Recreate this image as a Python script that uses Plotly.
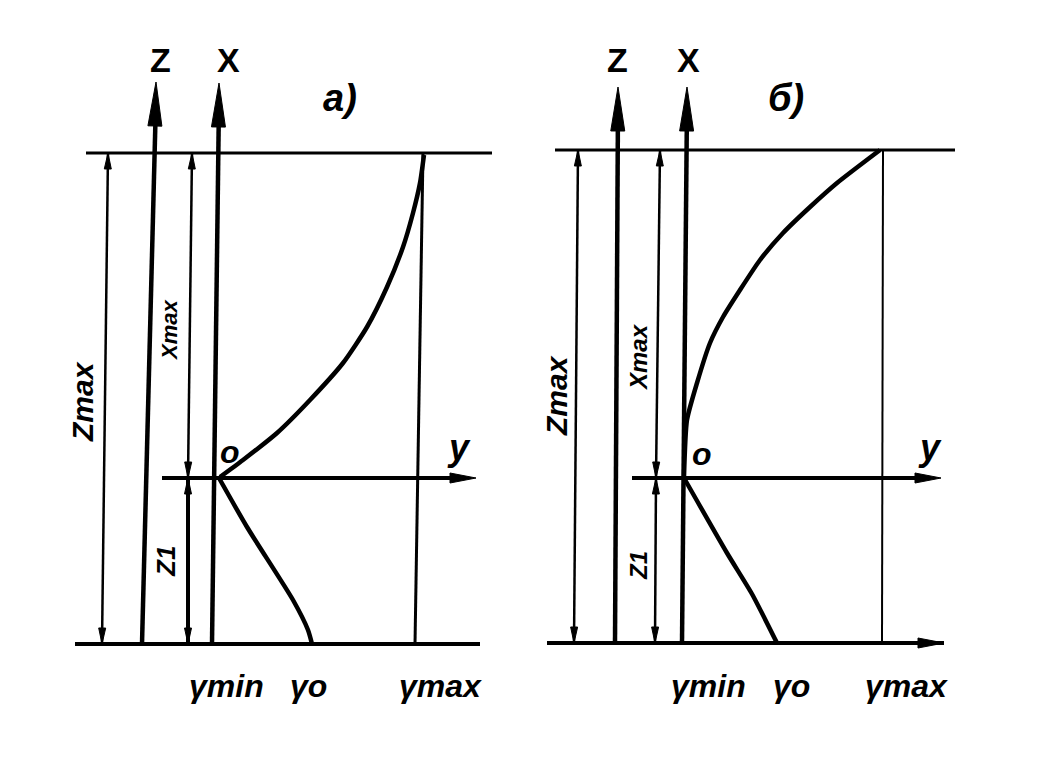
import math
import plotly.graph_objects as go

W, H = 1052, 758
PAD = 8  # default page margin of the HTML body

# ---------------- panel a) : drawing coordinates (horizontal, vertical) ----------------
a_top = [86, 492, 153]            # x from, x to, level
a_bottom = [75, 480, 644]
a_yaxis = [162, 476, 478]
a_z_axis = [142, 644, 156, 82]    # foot x, foot y, tip x, tip y
a_x_axis = [212, 644, 219, 83]
a_zmax_dim = [102, 644, 108, 153]
a_xmax_dim = [188, 478, 192, 153]
a_z1_dim = [188, 644, 188, 478]
a_gmax_line = [415, 644, 423, 153]
a_curve_h = [220, 243, 277, 310, 343, 367, 387, 403, 413, 420, 424]
a_curve_v = [477, 460, 433, 400, 363, 327, 287, 247, 213, 183, 155]
a_line_h = [219, 247, 293, 308, 312]
a_line_v = [478, 527, 600, 630, 644]

# ---------------- panel б) ----------------
b_top = [555, 955, 150]
b_bottom = [547, 944, 643]
b_yaxis = [632, 941, 478]
b_z_axis = [615, 643, 618, 87]
b_x_axis = [682, 643, 687, 87]
b_zmax_dim = [574, 643, 578, 150]
b_xmax_dim = [656, 478, 660, 150]
b_z1_dim = [655, 643, 656, 478]
b_gmax_line = [882, 643, 883, 150]
b_curve_h = [684, 687, 697, 710, 723, 740, 760, 783, 810, 837, 880]
b_curve_v = [477, 420, 383, 343, 317, 290, 260, 233, 207, 183, 150]
b_line_h = [684, 727, 752, 777]
b_line_v = [478, 553, 594, 643]

# ---------------- labels ----------------
axis_names = ["Z", "X", "Z", "X"]
axis_name_pos = [[160, 60], [228, 60], [617, 60], [688, 60]]
panel_tags = ["a)", "б)"]
panel_tag_pos = [[340, 98], [786, 98]]
origin_tags = ["o", "o"]
origin_pos = [[230, 452], [702, 454]]
y_tags = ["y", "y"]
y_pos = [[459, 447], [930, 447]]
bottom_labels = ["γmin", "γo", "γmax", "γmin", "γo", "γmax"]
bottom_pos = [[226, 686], [308, 686], [440, 686], [708, 686], [791, 686], [906, 686]]
dim_labels = ["Zmax", "Xmax", "Z1", "Zmax", "Xmax", "Z1"]
dim_pos = [[82, 402], [169, 331], [166, 562], [556, 396], [638, 357], [638, 566]]
dim_sizes = [30, 22, 26, 30, 24, 24]

fig = go.Figure()


def seg(x0, y0, x1, y1, w):
    fig.add_trace(go.Scatter(x=[x0, x1], y=[y0, y1], mode="lines",
                             line=dict(color="black", width=w),
                             hoverinfo="skip", showlegend=False))


def head(tx, ty, fx, fy, length, half):
    # filled triangular arrow head with tip (tx,ty), pointing away from (fx,fy)
    dx, dy = tx - fx, ty - fy
    n = math.hypot(dx, dy)
    ux, uy = dx / n, dy / n
    bx, by = tx - ux * length, ty - uy * length
    px, py = -uy, ux
    xs = [tx, bx + px * half, bx - px * half, tx]
    ys = [ty, by + py * half, by - py * half, ty]
    fig.add_trace(go.Scatter(x=xs, y=ys, mode="lines", fill="toself",
                             fillcolor="black", line=dict(color="black", width=1),
                             hoverinfo="skip", showlegend=False))


def axis_arrow(spec, w):
    fx, fy, tx, ty = spec
    seg(fx, fy, tx + (fx - tx) * 0.03, ty + (fy - ty) * 0.06, w)
    head(tx, ty, fx, fy, 44, 7)


def dim_line(spec, w, both=True):
    x0, y0, x1, y1 = spec
    seg(x0, y0, x1, y1, w)
    head(x1, y1, x0, y0, 16, 3.5)
    if both:
        head(x0, y0, x1, y1, 16, 3.5)


for top, bot, yax, zax, xax, zd, xd, z1, gm, ch, cv, lh, lv in [
    (a_top, a_bottom, a_yaxis, a_z_axis, a_x_axis, a_zmax_dim, a_xmax_dim, a_z1_dim,
     a_gmax_line, a_curve_h, a_curve_v, a_line_h, a_line_v),
    (b_top, b_bottom, b_yaxis, b_z_axis, b_x_axis, b_zmax_dim, b_xmax_dim, b_z1_dim,
     b_gmax_line, b_curve_h, b_curve_v, b_line_h, b_line_v),
]:
    seg(top[0], top[2], top[1], top[2], 3)
    seg(bot[0], bot[2], bot[1], bot[2], 4)
    seg(yax[0], yax[2], yax[1] - 20, yax[2], 4)
    head(yax[1], yax[2], yax[0], yax[2], 26, 5)
    axis_arrow(zax, 4.5)
    axis_arrow(xax, 4.5)
    dim_line(zd, 2.5)
    dim_line(xd, 2.5)
    dim_line(z1, 4 if top is a_top else 2.5)
    seg(gm[0], gm[1], gm[2], gm[3], 3 if top is a_top else 2)
    fig.add_trace(go.Scatter(x=ch, y=cv, mode="lines",
                             line=dict(color="black", width=4.5, shape="spline", smoothing=0.6),
                             hoverinfo="skip", showlegend=False))
    fig.add_trace(go.Scatter(x=lh, y=lv, mode="lines",
                             line=dict(color="black", width=4.5, shape="spline", smoothing=0.6),
                             hoverinfo="skip", showlegend=False))

# panel б bottom baseline arrow
head(b_bottom[1], b_bottom[2], b_bottom[0], b_bottom[2], 26, 5)

FONT = "Liberation Sans Narrow, Liberation Sans, DejaVu Sans"
ann = []


def label(text, pos, size, angle=0, italic=True):
    t = f"<b>{text}</b>"
    if italic:
        t = f"<i>{t}</i>"
    ann.append(dict(text=t, x=pos[0], y=pos[1], xref="x", yref="y", showarrow=False,
                    textangle=angle, font=dict(family=FONT, size=size, color="black"),
                    xanchor="center", yanchor="middle"))


for t, p in zip(axis_names, axis_name_pos):
    label(t, p, 34, italic=False)
for t, p in zip(panel_tags, panel_tag_pos):
    label(t, p, 38)
for t, p in zip(origin_tags, origin_pos):
    label(t, p, 32)
for t, p in zip(y_tags, y_pos):
    label(t, p, 36)
for t, p in zip(bottom_labels, bottom_pos):
    label(t, p, 32)
for t, p, s in zip(dim_labels, dim_pos, dim_sizes):
    label(t, p, s, angle=-90)

fig.update_layout(
    width=W - 2 * PAD, height=H - 2 * PAD, autosize=False,
    margin=dict(l=0, r=0, t=0, b=0),
    paper_bgcolor="white", plot_bgcolor="white",
    annotations=ann,
    xaxis=dict(range=[PAD, W - PAD], visible=False, fixedrange=True),
    yaxis=dict(range=[H - PAD, PAD], visible=False, fixedrange=True),
)

fig.write_html("out.html")
